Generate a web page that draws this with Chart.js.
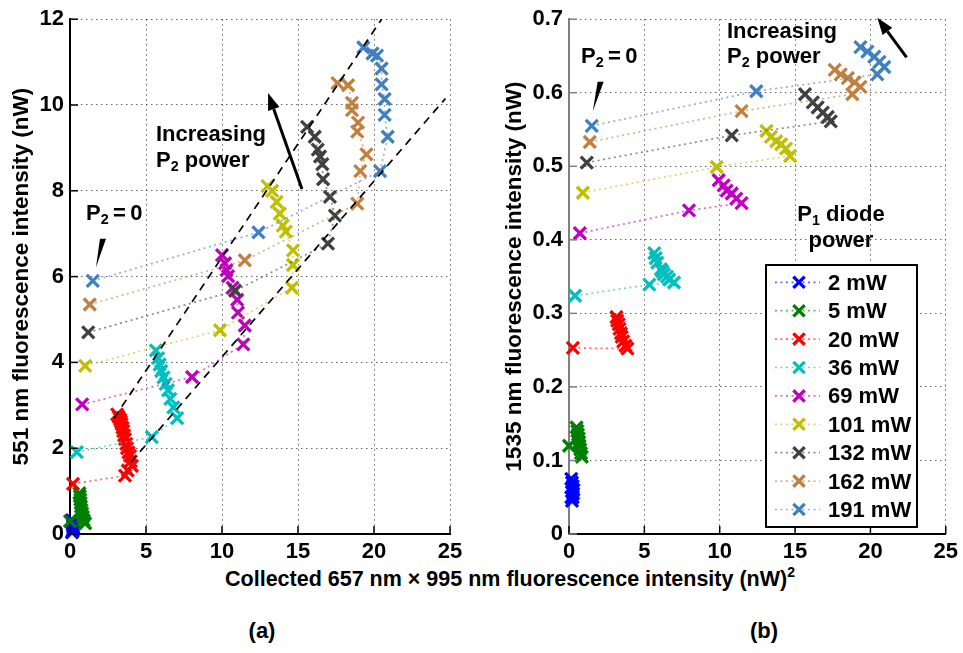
<!DOCTYPE html>
<html>
<head>
<meta charset="utf-8">
<script src="https://cdn.jsdelivr.net/npm/chart.js@4.4.1/dist/chart.umd.min.js"></script>
<style>
body { margin: 0; background: #fff; }
#wrap { position: relative; width: 963px; height: 653px; font-family: "Liberation Sans", Arial, sans-serif; font-weight: bold; font-size: 22px; color: #000; }
canvas { position: absolute; top: 0; }
.t { position: absolute; white-space: nowrap; line-height: 22px; }
.xt { font-size: 21.5px; }
sub { font-size: 0.65em; line-height: 0; vertical-align: -0.3em; }
sup { font-size: 0.65em; line-height: 0; vertical-align: 0.65em; }
</style>
</head>
<body>
<div id="wrap">
  <canvas id="panelA" width="490" height="560" style="left:0"></canvas>
  <canvas id="panelB" width="473" height="560" style="left:490px"></canvas>
</div>
<script>
// P1 diode power for each series
const powers = ['2 mW', '5 mW', '20 mW', '36 mW', '69 mW', '101 mW', '132 mW', '162 mW', '191 mW'];
const xTicks = [0, 5, 10, 15, 20, 25];
const yTicksA = [0, 2, 4, 6, 8, 10, 12];
const yTicksB = [0, 0.1, 0.2, 0.3, 0.4, 0.5, 0.6, 0.7];

// (a) 551 nm vs 657x995 product, [x, y]; first point is P2 = 0
const a_2 = [[0.12, 0.32], [0.15, 0.27], [0.18, 0.22], [0.2, 0.18], [0.22, 0.14], [0.2, 0.1], [0.18, 0.07], [0.15, 0.05], [0.13, 0.04]];
const a_5 = [[0.0, 0.3], [1.0, 0.25], [0.9, 0.32], [0.85, 0.4], [0.8, 0.48], [0.75, 0.56], [0.72, 0.64], [0.7, 0.72], [0.68, 0.8], [0.65, 0.88], [0.62, 0.95]];
const a_20 = [[0.2, 1.17], [3.62, 1.36], [3.8, 1.48], [4.07, 1.59], [4.0, 1.7], [3.95, 1.82], [3.85, 1.9], [3.75, 2.0], [3.7, 2.1], [3.62, 2.21], [3.55, 2.3], [3.5, 2.4], [3.45, 2.48], [3.4, 2.56], [3.35, 2.62], [3.3, 2.67], [3.2, 2.73], [3.1, 2.79]];
const a_36 = [[0.45, 1.91], [5.38, 2.26], [7.05, 2.7], [6.8, 2.95], [6.6, 3.15], [6.45, 3.35], [6.3, 3.5], [6.15, 3.65], [6.0, 3.8], [5.9, 3.95], [5.8, 4.1], [5.65, 4.28]];
const a_69 = [[0.8, 3.02], [8.03, 3.66], [11.4, 4.42], [11.5, 4.86], [11.05, 5.16], [11.0, 5.46], [10.7, 5.74], [10.4, 6.01], [10.3, 6.15], [10.2, 6.31], [10.0, 6.5]];
const a_101 = [[1.0, 3.92], [9.87, 4.75], [14.6, 5.74], [14.67, 6.27], [14.67, 6.61], [14.2, 7.05], [14.0, 7.19], [13.8, 7.47], [13.6, 7.74], [13.3, 8.0], [13.0, 8.11]];
const a_132 = [[1.2, 4.7], [10.86, 5.67], [16.97, 6.77], [17.43, 7.42], [17.1, 7.86], [16.65, 8.27], [16.6, 8.62], [16.45, 8.8], [16.3, 8.96], [16.1, 9.26], [15.6, 9.49]];
const a_162 = [[1.3, 5.35], [11.5, 6.38], [18.9, 7.7], [19.1, 8.46], [19.5, 8.85], [18.9, 9.38], [18.95, 9.59], [18.55, 9.88], [18.55, 10.05], [18.3, 10.46], [17.6, 10.51]];
const a_191 = [[1.5, 5.9], [12.4, 7.03], [20.4, 8.46], [20.9, 9.26], [20.7, 9.77], [20.7, 10.14], [20.5, 10.48], [20.5, 10.85], [20.2, 11.15], [19.9, 11.2], [19.3, 11.34]];

// (b) 1535 nm vs 657x995 product
const b_2 = [[0.15, 0.075], [0.2, 0.07], [0.25, 0.065], [0.3, 0.06], [0.28, 0.055], [0.25, 0.05], [0.2, 0.045], [0.22, 0.058], [0.15, 0.05]];
const b_5 = [[0.0, 0.12], [0.85, 0.105], [0.8, 0.11], [0.75, 0.115], [0.7, 0.12], [0.68, 0.125], [0.65, 0.13], [0.6, 0.135], [0.55, 0.14], [0.5, 0.145]];
const b_20 = [[0.26, 0.253], [3.88, 0.252], [3.75, 0.256], [3.6, 0.262], [3.5, 0.268], [3.45, 0.273], [3.35, 0.279], [3.3, 0.285], [3.2, 0.29], [3.15, 0.295]];
const b_36 = [[0.4, 0.324], [5.33, 0.339], [6.97, 0.342], [6.65, 0.346], [6.5, 0.35], [6.3, 0.353], [6.2, 0.357], [6.1, 0.36], [5.86, 0.369], [5.75, 0.375], [5.66, 0.382]];
const b_69 = [[0.72, 0.409], [7.96, 0.44], [11.45, 0.45], [11.1, 0.456], [10.8, 0.463], [10.46, 0.467], [10.26, 0.474], [9.93, 0.481]];
const b_101 = [[0.92, 0.464], [9.8, 0.499], [14.67, 0.514], [14.4, 0.524], [14.08, 0.53], [13.75, 0.534], [13.4, 0.54], [13.1, 0.548]];
const b_132 = [[1.18, 0.505], [10.8, 0.542], [17.37, 0.561], [17.17, 0.567], [16.84, 0.573], [16.5, 0.58], [16.18, 0.587], [15.66, 0.598]];
const b_162 = [[1.38, 0.533], [11.45, 0.575], [18.8, 0.598], [19.34, 0.608], [18.95, 0.614], [18.5, 0.62], [18.03, 0.625], [17.63, 0.631]];
const b_191 = [[1.51, 0.555], [12.43, 0.602], [20.46, 0.625], [20.92, 0.635], [20.6, 0.642], [20.26, 0.649], [19.8, 0.656], [19.34, 0.662]];

// guide lines in (a)
const guideUpper = [[2.9, 2.7], [20.5, 12.0]];
const guideLower = [[4.0, 1.67], [24.7, 10.15]];

const palette = ['#0000ff', '#008000', '#ff0000', '#00bfbf', '#bf00bf', '#bfbf00', '#404040', '#c08040', '#4080c0'];
const font = { family: '"Liberation Sans", Arial, sans-serif', size: 22, weight: 'bold' };
const titleFont = { family: '"Liberation Sans", Arial, sans-serif', size: 22.5, weight: 'bold' };

function fade(hex, a) {
    const n = parseInt(hex.slice(1), 16);
    return 'rgba(' + (n >> 16) + ',' + ((n >> 8) & 255) + ',' + (n & 255) + ',' + a + ')';
}

function toXY(pts) {
    return pts.map(p => ({ x: p[0], y: p[1] }));
}

function seriesSets(list) {
    return list.map((pts, i) => ({
        label: powers[i],
        data: toXY(pts),
        showLine: true,
        borderColor: fade(palette[i], 0.6),
        borderWidth: 1.7,
        borderDash: [2, 3.5],
        pointStyle: 'crossRot',
        pointRadius: 8.5,
        pointBorderWidth: 3.3,
        pointBorderColor: palette[i],
        pointBackgroundColor: palette[i],
        clip: false,
        order: list.length - i
    }));
}

function guideSet(pts) {
    return {
        data: toXY(pts), showLine: true, borderColor: '#000', borderWidth: 1.7,
        borderDash: [8, 6], pointRadius: 0, clip: false, order: -1
    };
}

function drawCross(ctx, x, y, r, color) {
    const d = r * Math.SQRT1_2;
    ctx.strokeStyle = color;
    ctx.lineWidth = 3.3;
    ctx.beginPath();
    ctx.moveTo(x - d, y - d); ctx.lineTo(x + d, y + d);
    ctx.moveTo(x + d, y - d); ctx.lineTo(x - d, y + d);
    ctx.stroke();
}

function drawArrow(ctx, x1, y1, x2, y2) {
    const ang = Math.atan2(y2 - y1, x2 - x1);
    const hl = 17, hw = 6;
    const bx = x2 - hl * Math.cos(ang), by = y2 - hl * Math.sin(ang);
    ctx.strokeStyle = '#000';
    ctx.fillStyle = '#000';
    ctx.lineWidth = 3;
    ctx.beginPath(); ctx.moveTo(x1, y1); ctx.lineTo(bx, by); ctx.stroke();
    ctx.beginPath();
    ctx.moveTo(x2, y2);
    ctx.lineTo(bx + hw * Math.sin(ang), by - hw * Math.cos(ang));
    ctx.lineTo(bx - hw * Math.sin(ang), by + hw * Math.cos(ang));
    ctx.closePath();
    ctx.fill();
}

// ticks inside the axes, arrows, pointers and the legend box
const decor = {
    id: 'decor',
    afterDatasetsDraw(chart, args, o) {
        const { ctx, chartArea: ca, scales: { x, y } } = chart;
        const px = v => x.getPixelForValue(v), py = v => y.getPixelForValue(v);
        ctx.save();
        ctx.lineWidth = 1.5;
        ctx.strokeStyle = '#000';
        x.ticks.forEach(t => {
            const X = px(t.value);
            ctx.beginPath(); ctx.moveTo(X, ca.bottom); ctx.lineTo(X, ca.bottom - 8); ctx.stroke();
        });
        ctx.strokeStyle = o.yColor;
        y.ticks.forEach(t => {
            const Y = py(t.value);
            ctx.beginPath(); ctx.moveTo(ca.left, Y); ctx.lineTo(ca.left + 8, Y); ctx.stroke();
        });

        ctx.fillStyle = '#000';
        (o.wedges || []).forEach(w => {
            const tx = px(w[0][0]), ty = py(w[0][1]);
            ctx.beginPath();
            ctx.moveTo(tx - 3, ty); ctx.lineTo(tx + 3, ty);
            ctx.lineTo(px(w[1][0]), py(w[1][1]));
            ctx.closePath(); ctx.fill();
        });
        (o.arrows || []).forEach(a => drawArrow(ctx, px(a[0][0]), py(a[0][1]), px(a[1][0]), py(a[1][1])));

        if (o.legend) {
            const L = o.legend;
            ctx.fillStyle = '#fff';
            ctx.fillRect(L.l, L.t, L.r - L.l, L.b - L.t);
            ctx.strokeStyle = '#000';
            ctx.lineWidth = 2;
            ctx.strokeRect(L.l, L.t, L.r - L.l, L.b - L.t);
            powers.forEach((p, i) => {
                const Y = L.t + 17.3 + i * L.step;
                ctx.save();
                ctx.strokeStyle = fade(palette[i], 0.6);
                ctx.lineWidth = 1.7;
                ctx.setLineDash([2, 3.5]);
                ctx.beginPath(); ctx.moveTo(L.l + 9, Y); ctx.lineTo(L.l + 54, Y); ctx.stroke();
                ctx.restore();
                drawCross(ctx, L.l + 33, Y, 8, palette[i]);
            });
        }
        ctx.restore();
    }
};

function makePanel(id, sets, opt) {
    return new Chart(document.getElementById(id), {
        type: 'scatter',
        data: { datasets: sets },
        plugins: [decor],
        options: {
            responsive: false,
            animation: false,
            events: [],
            layout: { padding: { left: 0, top: 13, right: opt.padRight, bottom: 0 } },
            plugins: { legend: { display: false }, tooltip: { enabled: false }, decor: opt.decor },
            scales: {
                x: {
                    type: 'linear', min: 0, max: 25,
                    afterBuildTicks: s => { s.ticks = xTicks.map(v => ({ value: v })); },
                    afterFit: s => { s.height = 26; },
                    grid: { color: 'rgba(0,0,0,0.6)', lineWidth: 1, drawTicks: false },
                    border: { display: true, color: '#000', width: 2, dash: [1.5, 3.5] },
                    ticks: { font: font, color: '#000', padding: 5, maxRotation: 0, autoSkip: false, callback: (v, i) => String(xTicks[i]) }
                },
                y: {
                    type: 'linear', min: 0, max: opt.yTicks[opt.yTicks.length - 1],
                    afterBuildTicks: s => { s.ticks = opt.yTicks.map(v => ({ value: v })); },
                    afterFit: s => { s.width = opt.yWidth; },
                    grid: { color: 'rgba(0,0,0,0.6)', lineWidth: 1, drawTicks: false },
                    border: { display: true, color: opt.decor.yColor, width: 2, dash: [1.5, 3.5] },
                    ticks: { font: font, color: '#000', padding: 6, autoSkip: false, callback: (v, i) => String(opt.yTicks[i]) },
                    title: { display: true, text: opt.yTitle, font: titleFont, color: '#000', padding: { top: opt.titlePad, bottom: 0 } }
                }
            }
        }
    });
}

makePanel('panelA',
    seriesSets([a_2, a_5, a_20, a_36, a_69, a_101, a_132, a_162, a_191]).concat([guideSet(guideUpper), guideSet(guideLower)]),
    {
        padRight: 40, yWidth: 70, yTicks: yTicksA, titlePad: 8.5,
        yTitle: '551 nm fluorescence intensity (nW)',
        decor: {
            yColor: '#000',
            wedges: [[[2.17, 6.88], [1.71, 6.22]]],
            arrows: [[[15.26, 8.04], [13.03, 10.28]]]
        }
    });

makePanel('panelB',
    seriesSets([b_2, b_5, b_20, b_36, b_69, b_101, b_132, b_162, b_191]),
    {
        padRight: 14, yWidth: 79, yTicks: yTicksB, titlePad: 11.5,
        yTitle: '1535 nm fluorescence intensity (nW)',
        decor: {
            yColor: '#808080',
            wedges: [[[2.1, 0.615], [1.58, 0.575]]],
            arrows: [[[22.4, 0.648], [20.46, 0.702]]],
            legend: { l: 276, t: 265, r: 427, b: 527, step: 28.4 }
        }
    });

// free text: [html, x, baseline, centred, extra class]
const notes = [
    ['P<sub>2</sub>&thinsp;=&thinsp;0', 86, 221, false],
    ['Increasing', 156, 142, false],
    ['P<sub>2</sub> power', 156, 168, false],
    ['P<sub>2</sub>&thinsp;=&thinsp;0', 581, 64, false],
    ['Increasing', 727, 38.5, false],
    ['P<sub>2</sub> power', 727, 64, false],
    ['P<sub>1</sub> diode', 841, 222, true],
    ['power', 841, 248, true],
    ['Collected 657 nm &times; 995 nm fluorescence intensity (nW)<sup>2</sup>', 510, 587, true, 'xt'],
    ['(a)', 262, 639, true],
    ['(b)', 764, 639, true]
];
powers.forEach((p, i) => notes.push([p, 828, 265 + 17.3 + i * 28.4 + 8, false]));

const wrap = document.getElementById('wrap');
notes.forEach(n => {
    const d = document.createElement('div');
    d.className = 't' + (n[4] ? ' ' + n[4] : '');
    d.innerHTML = n[0];
    d.style.left = n[1] + 'px';
    d.style.top = (n[2] - 18.6) + 'px';
    if (n[3]) d.style.transform = 'translateX(-50%)';
    wrap.appendChild(d);
});
</script>
</body>
</html>
